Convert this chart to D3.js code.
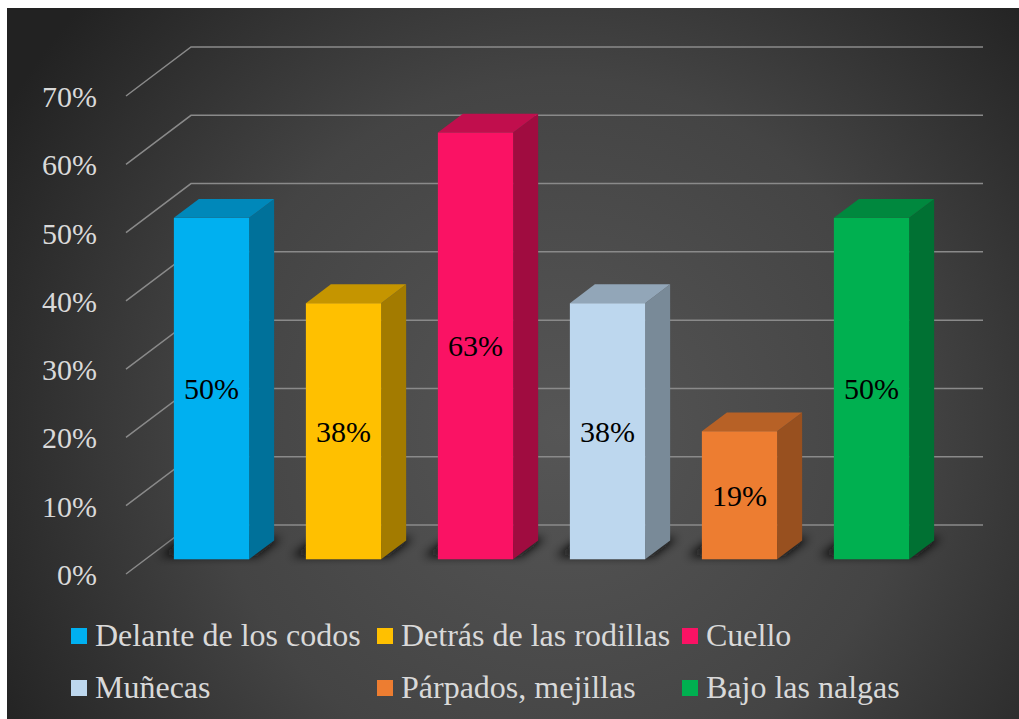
<!DOCTYPE html>
<html>
<head>
<meta charset="utf-8">
<script src="https://cdn.jsdelivr.net/npm/d3@7"></script>
<style>
  html, body { margin: 0; padding: 0; background: #fff; }
</style>
</head>
<body>
<div id="chart"></div>
<script>
// Datos
const categorias = ["Delante de los codos", "Detrás de las rodillas", "Cuello", "Muñecas", "Párpados, mejillas", "Bajo las nalgas"];
const valores = [50, 37.5, 62.5, 37.5, 18.75, 50];
const ticks = [0, 10, 20, 30, 40, 50, 60, 70];
const colores = ["#00B0F0", "#FFC000", "#FA1264", "#BDD7EE", "#ED7D31", "#00B050"];

const W = 1019, H = 719;
const FONT = '"Liberation Serif", "Times New Roman", serif';

const svg = d3.select("#chart").append("svg")
  .attr("width", W).attr("height", H)
  .style("display", "block");

const defs = svg.append("defs");
const grad = defs.append("radialGradient")
  .attr("id", "bg").attr("gradientUnits", "userSpaceOnUse")
  .attr("cx", 560).attr("cy", 430).attr("r", 640);
grad.append("stop").attr("offset", "0%").attr("stop-color", "#565656");
grad.append("stop").attr("offset", "55%").attr("stop-color", "#444");
grad.append("stop").attr("offset", "100%").attr("stop-color", "#222");

defs.append("filter").attr("id", "blur")
  .attr("x", "-50%").attr("y", "-50%").attr("width", "200%").attr("height", "200%")
  .append("feGaussianBlur").attr("stdDeviation", 5);

svg.append("rect")
  .attr("x", 7).attr("y", 8).attr("width", W - 7).attr("height", H - 8)
  .attr("fill", "url(#bg)");

// Proyección 3D simple
const floorY = 574;            // borde frontal del piso (0%)
const depthX = 65, depthY = 49; // desplazamiento hacia el fondo
const zFront = 0.3, zBack = 0.685;

const x = d3.scaleBand()
  .domain(categorias)
  .range([126, 918])
  .paddingInner(0.43)
  .paddingOuter(0.215);

const h = d3.scaleLinear().domain([0, 70]).range([0, 478]);

const P = (px, v, z) => [px + z * depthX, floorY - h(v) - z * depthY];
const pts = arr => arr.map(p => p.join(",")).join(" ");

// Líneas de cuadrícula
const grid = svg.append("g");
ticks.forEach(t => {
  grid.append("polyline")
    .attr("points", pts([P(126, t, 0), P(126, t, 1), P(918, t, 1)]))
    .attr("fill", "none")
    .attr("stroke", "#8a8a8a")
    .attr("stroke-width", 1.5);
});

// Etiquetas del eje
svg.append("g").selectAll("text")
  .data(ticks)
  .enter().append("text")
    .attr("x", 97)
    .attr("y", d => P(126, d, 0)[1] + 11)
    .attr("text-anchor", "end")
    .style("font-family", FONT)
    .style("font-size", "30px")
    .attr("fill", "#D9D9D9")
    .text(d => d + "%");

const data = categorias.map((c, i) => ({ cat: c, val: valores[i], color: colores[i] }));

// Sombras
svg.append("g").selectAll("polygon")
  .data(data)
  .enter().append("polygon")
    .attr("points", d => {
      const x0 = x(d.cat) - 18, x1 = x(d.cat) + x.bandwidth() + 4;
      return pts([P(x0, 0, zFront + 0.06), P(x1, 0, zFront + 0.06), P(x1, 0, zBack + 0.05), P(x0, 0, zBack + 0.05)]);
    })
    .attr("fill", "#0a0a0a")
    .attr("opacity", 0.95)
    .attr("filter", "url(#blur)");

// Barras
const bars = svg.append("g").selectAll("g")
  .data(data)
  .enter().append("g");

bars.append("polygon")   // lado derecho
  .attr("points", d => {
    const xr = x(d.cat) + x.bandwidth();
    return pts([P(xr, 0, zFront), P(xr, 0, zBack), P(xr, d.val, zBack), P(xr, d.val, zFront)]);
  })
  .attr("fill", d => d3.color(d.color).darker(1.25));

bars.append("polygon")   // techo
  .attr("points", d => {
    const xl = x(d.cat), xr = xl + x.bandwidth();
    return pts([P(xl, d.val, zFront), P(xr, d.val, zFront), P(xr, d.val, zBack), P(xl, d.val, zBack)]);
  })
  .attr("fill", d => d3.color(d.color).darker(0.72));

bars.append("rect")      // frente
  .attr("x", d => P(x(d.cat), 0, zFront)[0])
  .attr("y", d => P(0, d.val, zFront)[1])
  .attr("width", x.bandwidth())
  .attr("height", d => h(d.val))
  .attr("fill", d => d.color);

bars.append("text")
  .attr("x", d => P(x(d.cat) + x.bandwidth() / 2, 0, zFront)[0])
  .attr("y", d => P(0, d.val / 2, zFront)[1])
  .attr("dy", "0.35em")
  .attr("text-anchor", "middle")
  .style("font-family", FONT)
  .style("font-size", "30px")
  .attr("fill", "#000")
  .text(d => Math.round(d.val) + "%");

// Leyenda
const colX = [71, 377, 682];
const rowY = [646, 698];
const leg = svg.append("g").selectAll("g")
  .data(data)
  .enter().append("g")
    .attr("transform", (d, i) => `translate(${colX[i % 3]},${rowY[Math.floor(i / 3)]})`);

leg.append("rect")
  .attr("x", 0).attr("y", -18)
  .attr("width", 16).attr("height", 16)
  .attr("fill", d => d.color);

leg.append("text")
  .attr("x", 24)
  .style("font-family", FONT)
  .style("font-size", "32px")
  .attr("fill", "#D9D9D9")
  .text(d => d.cat);
</script>
</body>
</html>
